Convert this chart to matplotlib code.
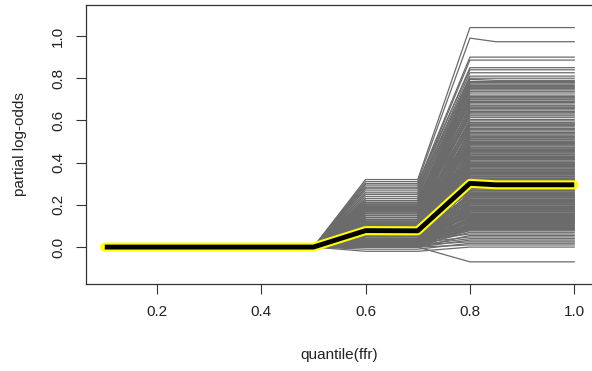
import matplotlib
matplotlib.use("Agg")
import matplotlib.pyplot as plt
import numpy as np

plt.rcParams['font.family'] = ['Liberation Sans', 'DejaVu Sans']

# quantile grid of ffr
x_grid = [0.1, 0.2, 0.3, 0.4, 0.5, 0.6, 0.7, 0.8, 0.85, 1.0]

# ICE curves: level reached at quantile 0.6-0.7, and at 0.8 onwards
ice_q60 = [
    0.32, 0.31, 0.30, 0.29, 0.28, 0.30, 0.27, 0.26, 0.28, 0.25,
    0.24, 0.22, 0.25, 0.21, 0.23, 0.20, 0.22, 0.19, 0.21, 0.18,
    0.20, 0.23, 0.17, 0.19, 0.21, 0.16, 0.18, 0.20, 0.15, 0.17,
    0.19, 0.16, 0.18, 0.14, 0.17, 0.15, 0.19, 0.13, 0.16, 0.14,
    0.18, 0.12, 0.15, 0.13, 0.17, 0.11, 0.14, 0.12, 0.16, 0.10,
    0.14, 0.12, 0.13, 0.11, 0.14, 0.10, 0.12, 0.13, 0.09, 0.11,
    0.12, 0.10, 0.13, 0.08, 0.11, 0.10, 0.12, 0.09, 0.10, 0.08,
    0.11, 0.09, 0.07, 0.10, 0.08, 0.09, 0.07, 0.10, 0.06, 0.08,
    0.09, 0.07, 0.08, 0.06, 0.07, 0.09, 0.05, 0.07, 0.08, 0.06,
    0.07, 0.05, 0.06, 0.08, 0.04, 0.06, 0.07, 0.05, 0.06, 0.04,
    0.05, 0.07, 0.03, 0.05, 0.06, 0.04, 0.05, 0.03, 0.04, 0.06,
    0.02, 0.04, 0.05, 0.03, 0.04, 0.02, 0.03, 0.04, 0.01, 0.03,
    0.02, 0.03, 0.01, 0.02, 0.01, 0.02,
    0.00, 0.01, 0.02, 0.00, 0.03, 0.01, 0.04, 0.02, 0.05, 0.03,
    0.06, 0.04, 0.07, 0.05, 0.08, 0.06,
    0.02, 0.01, 0.03, 0.00, 0.02, 0.01, 0.00, 0.01, -0.01, 0.00,
    -0.02, 0.00,
    0.12, 0.10, 0.13, 0.09, 0.11, 0.08, 0.12, 0.07, 0.10, 0.09,
    0.06, 0.11, 0.08, 0.05, 0.09, 0.07, 0.04, 0.08, 0.06, 0.03,
    0.07, 0.05, 0.02, 0.06, 0.04, 0.01, 0.05, 0.03, 0.00, 0.04,
    0.02, 0.01, 0.03, 0.00, 0.02, 0.01,
    0.21, 0.19, 0.22, 0.17, 0.20, 0.18, 0.15, 0.17, 0.14, 0.16,
    0.13, 0.15,
]
ice_q80 = [
    1.04, 0.99, 0.90, 0.886, 0.85, 0.84, 0.826, 0.81, 0.80, 0.795,
    0.785, 0.778, 0.772, 0.765, 0.76, 0.752, 0.745, 0.738, 0.72, 0.713,
    0.706, 0.70, 0.692, 0.685, 0.678, 0.67, 0.664, 0.657, 0.65, 0.643,
    0.636, 0.63, 0.622, 0.605, 0.598, 0.59, 0.584, 0.577, 0.57, 0.563,
    0.556, 0.55, 0.543, 0.536, 0.53, 0.523, 0.516, 0.51, 0.503, 0.50,
    0.496, 0.49, 0.485, 0.48, 0.474, 0.469, 0.463, 0.458, 0.452, 0.447,
    0.441, 0.436, 0.43, 0.425, 0.419, 0.414, 0.408, 0.403, 0.397, 0.392,
    0.386, 0.381, 0.375, 0.37, 0.364, 0.359, 0.353, 0.348, 0.342, 0.337,
    0.331, 0.326, 0.32, 0.315, 0.309, 0.304, 0.298, 0.293, 0.287, 0.282,
    0.276, 0.271, 0.265, 0.26, 0.254, 0.249, 0.243, 0.238, 0.232, 0.227,
    0.221, 0.216, 0.21, 0.205, 0.199, 0.194, 0.188, 0.183, 0.177, 0.172,
    0.166, 0.161, 0.155, 0.15, 0.144, 0.139, 0.133, 0.128, 0.122, 0.117,
    0.111, 0.106, 0.10, 0.095, 0.089, 0.084,
    0.081, 0.092, 0.103, 0.114, 0.125, 0.136, 0.147, 0.158, 0.169, 0.18,
    0.191, 0.202, 0.213, 0.224, 0.235, 0.246,
    0.077, 0.07, 0.062, 0.055, 0.048, 0.04, 0.033, 0.025, 0.018, 0.01,
    0.0, -0.07,
    0.49, 0.47, 0.455, 0.44, 0.43, 0.415, 0.40, 0.39, 0.38, 0.367,
    0.355, 0.345, 0.335, 0.323, 0.312, 0.30, 0.29, 0.28, 0.268, 0.257,
    0.245, 0.236, 0.224, 0.213, 0.203, 0.192, 0.18, 0.17, 0.16, 0.15,
    0.14, 0.13, 0.12, 0.11, 0.098, 0.087,
    0.78, 0.755, 0.73, 0.71, 0.69, 0.66, 0.64, 0.615, 0.58, 0.56,
    0.54, 0.52,
]
# curves whose value shifts after 0.8
late_idx = [1, 9]
late_val = [0.973, 0.79]

# partial dependence (average) curve
pd_vals = [0, 0, 0, 0, 0, 0.078, 0.077, 0.302, 0.295, 0.295]

xticks = [0.2, 0.4, 0.6, 0.8, 1.0]
yticks = [0.0, 0.2, 0.4, 0.6, 0.8, 1.0]

n = len(ice_q80)
curves = np.zeros((n, len(x_grid)))
curves[:, 5] = ice_q60
curves[:, 6] = ice_q60
curves[:, 7] = ice_q80
curves[:, 8] = ice_q80
curves[:, 9] = ice_q80
for i, v in zip(late_idx, late_val):
    curves[i, 8:] = v

fig = plt.figure(figsize=(5.92, 3.71), dpi=100)
ax = fig.add_axes([86 / 592, 1 - 284 / 371, 507 / 592, 279 / 371])

ax.plot(x_grid, curves.T, color='#6b6b6b', lw=0.9)
ax.plot(x_grid, pd_vals, color='#ffff00', lw=6.5, solid_capstyle='round',
        solid_joinstyle='round')
ax.plot(x_grid, pd_vals, color='black', lw=3.5, solid_capstyle='butt')

ax.set_xlim(0.064, 1.036)
ax.set_ylim(-0.175, 1.147)
ax.set_xticks(xticks)
ax.set_xticklabels([f"{t:.1f}" for t in xticks])
ax.set_yticks(yticks)
ax.set_yticklabels([f"{t:.1f}" for t in yticks], rotation=90, va='center')
ax.tick_params(direction='out', length=7, width=0.8, color='#333333',
               labelsize=11, labelcolor='#222222', pad=8)
for s in ax.spines.values():
    s.set_color('#333333')
    s.set_linewidth(0.9)

fig.text(339 / 592, 1 - 355 / 371, "quantile(ffr)", ha='center', va='center',
         fontsize=11, color='#222222')
fig.text(20 / 592, 1 - 144 / 371, "partial log-odds", ha='center', va='center',
         rotation=90, fontsize=11, color='#222222')

fig.savefig("out.png", dpi=100)
